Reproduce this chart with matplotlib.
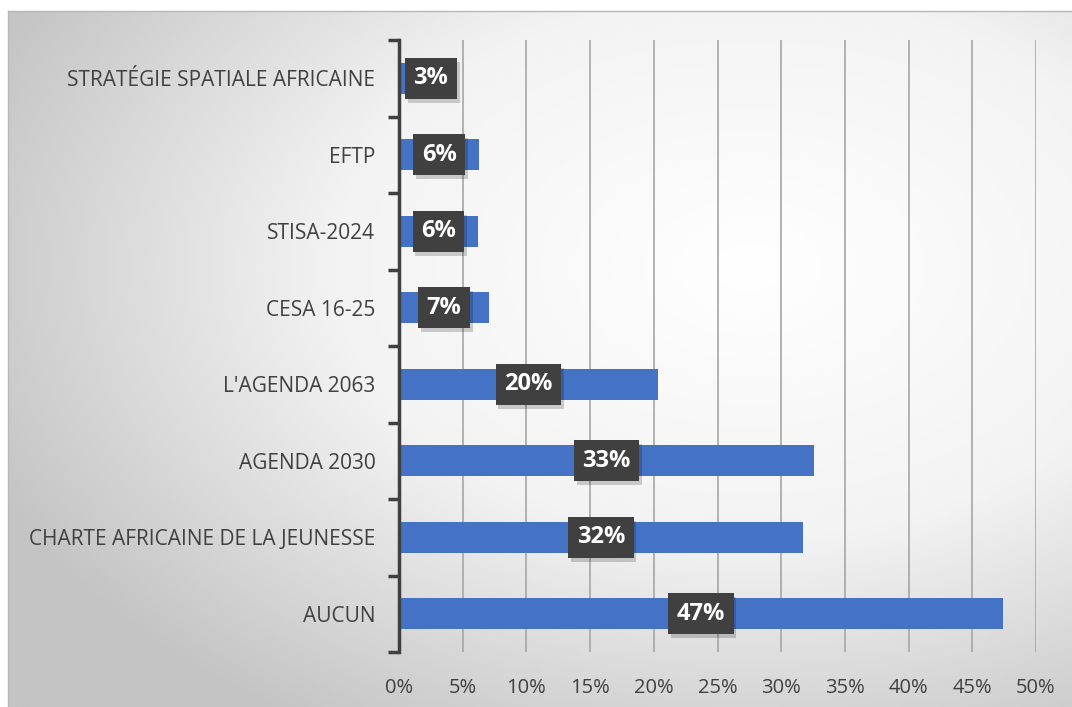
import numpy as np
import matplotlib
matplotlib.use("Agg")
import matplotlib.pyplot as plt
import matplotlib.patheffects as pe
from matplotlib.colors import LinearSegmentedColormap

categories = ["STRATÉGIE SPATIALE AFRICAINE", "EFTP", "STISA-2024", "CESA 16-25",
              "L'AGENDA 2063", "AGENDA 2030", "CHARTE AFRICAINE DE LA JEUNESSE", "AUCUN"]
values = [3.2, 6.3, 6.2, 7.1, 20.3, 32.6, 31.7, 47.4]
labels = ["3%", "6%", "6%", "7%", "20%", "33%", "32%", "47%"]
xticks = [0, 5, 10, 15, 20, 25, 30, 35, 40, 45, 50]

plt.rcParams['font.family'] = ['Open Sans', 'DejaVu Sans']
W, H = 1072, 707
fig = plt.figure(figsize=(W / 100, H / 100), dpi=100)
fig.patch.set_facecolor("white")

# radial gradient background of the chart frame
bg = fig.add_axes([8 / W, 0, 1 - 8 / W, 1 - 11 / H])
yy, xx = np.mgrid[0:300, 0:460]
cx, cy = 320, 110
r = np.sqrt(((xx - cx) / 460) ** 2 + ((yy - cy) / 300) ** 2)
r = np.clip(r / 0.78, 0, 1)
cmap = LinearSegmentedColormap.from_list("bg", ["#ffffff", "#f3f3f3", "#c4c4c4"])
bg.imshow(r, cmap=cmap, aspect="auto", extent=[0, 1, 0, 1], origin="upper", vmin=0, vmax=1)
bg.set_xticks([])
bg.set_yticks([])
for s in bg.spines.values():
    s.set_color("#b8b8b8")
    s.set_linewidth(1)
bg.spines["right"].set_visible(False)
bg.spines["bottom"].set_visible(False)

x0, x1 = 399, 1036
y0, y1 = 40, 652
ax = fig.add_axes([x0 / W, 1 - y1 / H, (x1 - x0) / W, (y1 - y0) / H])
ax.patch.set_alpha(0)

pos = np.arange(len(categories))
ax.barh(pos, values, height=0.4, color="#4472c4", zorder=2)
ax.set_xlim(0, 50)
ax.set_ylim(len(categories) - 0.5, -0.5)
ax.set_xticks(xticks)
ax.set_xticklabels([f"{t}%" for t in xticks], fontsize=14.5, color="#404040")
ax.set_yticks(pos)
ax.set_yticklabels(categories, fontsize=15, color="#404040")
ax.tick_params(axis="x", length=0, pad=19)
ax.tick_params(axis="y", which="major", length=0, pad=17)
ax.set_yticks(np.arange(-0.5, len(categories), 1), minor=True)
ax.tick_params(axis="y", which="minor", length=8, width=2.5, color="#404040")
ax.grid(axis="x", color="#a6a6a6", linewidth=1.2, zorder=0)
ax.set_axisbelow(True)
for s in ["top", "right", "bottom"]:
    ax.spines[s].set_visible(False)
ax.spines["left"].set_color("#404040")
ax.spines["left"].set_linewidth(2.5)
ax.spines["left"].set_zorder(3)

for p, v, lab in zip(pos, values, labels):
    xc = max(v / 2, 2.5)
    t = ax.text(xc, p, lab, ha="center", va="center", fontsize=17, fontweight="bold",
                color="white", zorder=4,
                bbox=dict(boxstyle="square,pad=0.36", fc="#404040", ec="none"))
    t.get_bbox_patch().set_path_effects([
        pe.SimplePatchShadow(offset=(2, -3), shadow_rgbFace="black", alpha=0.18),
        pe.Normal()])

fig.savefig("out.png", dpi=100, facecolor="white")
